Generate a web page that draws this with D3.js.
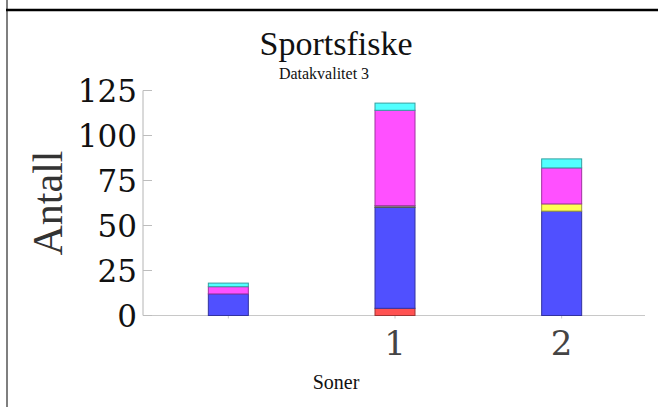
<!DOCTYPE html>
<html><head><meta charset="utf-8">
<script src="https://cdn.jsdelivr.net/npm/d3@7/dist/d3.min.js"></script>
<style>body{margin:0;background:#fff}svg{display:block}</style>
</head><body>
<script>
const zones = ["", "1", "2"];
const seriesNames = ["rød", "blå", "grå", "gul", "magenta", "cyan"];
const seriesColors = ["#ff5252", "#5050ff", "#8a8a8a", "#ffff52", "#ff50ff", "#52ffff"];
const red     = [0, 4, 0];
const blue    = [12, 56, 58];
const gray    = [0, 1, 0];
const yellow  = [0, 0, 4];
const magenta = [4, 53, 20];
const cyan    = [2, 4, 5];
const yTicks = [0, 25, 50, 75, 100, 125];

const seriesValues = [red, blue, gray, yellow, magenta, cyan];
const W = 658, H = 407;
const svg = d3.select("body").append("svg").attr("width", W).attr("height", H);

// frame
svg.append("line").attr("x1", 7).attr("x2", 7).attr("y1", 0).attr("y2", H)
  .attr("stroke", "#555").attr("stroke-width", 1.5);
svg.append("line").attr("x1", 6).attr("x2", W).attr("y1", 10).attr("y2", 10)
  .attr("stroke", "#000").attr("stroke-width", 2.5);

const x = d3.scaleBand().domain(zones).range([145, 645]).paddingInner(0.76).paddingOuter(0.38);
const y = d3.scaleLinear().domain([0, 125]).range([315.5, 90.5]);

const table = zones.map((z, i) => {
  const o = {zone: z};
  seriesNames.forEach((s, k) => o[s] = seriesValues[k][i]);
  return o;
});
const stack = d3.stack().keys(seriesNames)(table);

// axes
const g = svg.append("g");
g.append("line").attr("x1", 143).attr("x2", 645).attr("y1", y(0)).attr("y2", y(0))
  .attr("stroke", "#c8c8c8").attr("stroke-width", 1);
g.append("line").attr("x1", 143).attr("x2", 143).attr("y1", y(125)).attr("y2", y(0))
  .attr("stroke", "#b4b4b4").attr("stroke-width", 1);
g.selectAll("line.yt").data(yTicks).join("line").attr("class", "yt")
  .attr("x1", 143).attr("x2", 152).attr("y1", d => y(d)).attr("y2", d => y(d))
  .attr("stroke", "#bdbdbd").attr("stroke-width", 1);
g.selectAll("text.yl").data(yTicks).join("text").attr("class", "yl")
  .attr("x", 137).attr("y", d => y(d)).attr("dy", "0.36em")
  .attr("text-anchor", "end").attr("font-family", "DejaVu Serif").attr("font-size", 31)
  .attr("fill", "#111").text(d => d);
g.selectAll("line.xt").data(zones).join("line").attr("class", "xt")
  .attr("x1", d => x(d) + x.bandwidth() / 2).attr("x2", d => x(d) + x.bandwidth() / 2)
  .attr("y1", y(0)).attr("y2", y(0) + 3).attr("stroke", "#c8c8c8");
g.selectAll("text.xl").data(zones).join("text").attr("class", "xl")
  .attr("x", d => x(d) + x.bandwidth() / 2).attr("y", 355)
  .attr("text-anchor", "middle").attr("font-family", "DejaVu Serif").attr("font-size", 34)
  .attr("fill", "#444").text(d => d);

// bars
stack.forEach((layer, k) => {
  const col = seriesColors[k];
  svg.append("g").selectAll("rect").data(layer.filter(d => d[1] - d[0] > 0)).join("rect")
    .attr("x", d => x(d.data.zone)).attr("width", x.bandwidth())
    .attr("y", d => y(d[1])).attr("height", d => y(d[0]) - y(d[1]))
    .attr("fill", col).attr("stroke", d3.color(col).darker(1.3)).attr("stroke-width", 1);
});

// texts
svg.append("text").attr("x", 336).attr("y", 55).attr("text-anchor", "middle")
  .attr("font-family", "Liberation Serif").attr("font-size", 34).attr("fill", "#111").text("Sportsfiske");
svg.append("text").attr("x", 324).attr("y", 79).attr("text-anchor", "middle")
  .attr("font-family", "Liberation Serif").attr("font-size", 16).attr("fill", "#111").text("Datakvalitet 3");
svg.append("text").attr("transform", "translate(62,203) rotate(-90)").attr("text-anchor", "middle")
  .attr("font-family", "Liberation Serif").attr("font-size", 42).attr("fill", "#333").text("Antall");
svg.append("text").attr("x", 336).attr("y", 389).attr("text-anchor", "middle")
  .attr("font-family", "Liberation Serif").attr("font-size", 20).attr("fill", "#111").text("Soner");
</script>
</body></html>
